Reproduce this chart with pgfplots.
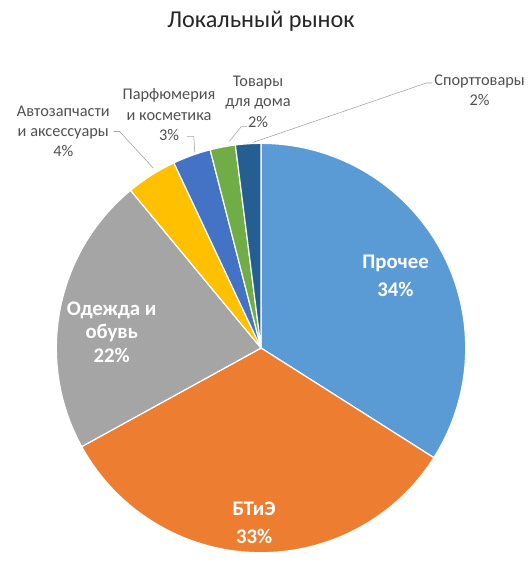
\documentclass[border=0pt]{standalone}
\usepackage{pgfplots}
\pgfplotsset{compat=1.18}
\usepackage{pgfplotstable}
\usepackage{fontspec}
\setmainfont{Carlito}

\definecolor{pc0}{HTML}{5B9BD5}
\definecolor{pc1}{HTML}{ED7D31}
\definecolor{pc2}{HTML}{A5A5A5}
\definecolor{pc3}{HTML}{FFC000}
\definecolor{pc4}{HTML}{4472C4}
\definecolor{pc5}{HTML}{70AD47}
\definecolor{pc6}{HTML}{255E91}
\definecolor{lbl}{HTML}{505050}

% shares, clockwise from 12 o'clock
\pgfplotstableread{
value
34
33
22
4
3
2
2
}\piedata

\begin{document}
\begin{tikzpicture}
\path (0,0) rectangle (534pt,582pt);
\begin{axis}[
    x=1pt, y=1pt,
    xmin=0, xmax=534, ymin=0, ymax=582,
    hide axis, clip=false, scale only axis,
    at={(0,0)}, anchor=south west,
]
\pgfplotsextra{
  \gdef\cum{0}
  \pgfplotstableforeachcolumnelement{value}\of\piedata\as\v{%
    \pgfmathsetmacro\aA{90-3.6*\cum}%
    \pgfmathsetmacro\aB{90-3.6*(\cum+\v)}%
    \fill[pc\pgfplotstablerow, draw=white, line width=1.2pt, line join=round]
      (axis cs:264,230) -- ++(\aA:207pt)
      arc[start angle=\aA, end angle=\aB, radius=207pt] -- cycle;
    \pgfmathsetmacro\tmp{\cum+\v}%
    \xdef\cum{\tmp}%
  }
}

% title
\node[font=\fontsize{24.5}{28}\selectfont, text=black!85] at (axis cs:264,560) {Локальный рынок};

% inside labels
\begin{scope}[every node/.style={text=white, font=\fontsize{21}{28}\selectfont\bfseries, align=center}]
\node at (axis cs:400,303) {Прочее\\34\%};
\node at (axis cs:257,53) {БТиЭ\\33\%};
\node[font=\fontsize{21}{24}\selectfont\bfseries] at (axis cs:113,246) {Одежда и\\обувь\\22\%};
\end{scope}

% outside labels
\begin{scope}[every node/.style={text=lbl, font=\fontsize{16.5}{20.5}\selectfont, align=center}]
\node at (axis cs:64,449) {Автозапчасти\\и аксессуары\\4\%};
\node at (axis cs:171,466) {Парфюмерия\\и косметика\\3\%};
\node at (axis cs:261,479) {Товары\\для дома\\2\%};
\node at (axis cs:485,491) {Спорттовары\\2\%};
\end{scope}

% leader lines
\begin{scope}[draw=black!35, line width=0.6pt]
\draw (axis cs:115,449) -- (axis cs:121,449) -- (axis cs:155,412);
\draw (axis cs:189,444) -- (axis cs:196,444) -- (axis cs:197,428);
\draw (axis cs:250,454) -- (axis cs:244,454) -- (axis cs:232,439);
\draw (axis cs:437,498) -- (axis cs:431,498) -- (axis cs:256,438);
\end{scope}
\end{axis}
\end{tikzpicture}
\end{document}
